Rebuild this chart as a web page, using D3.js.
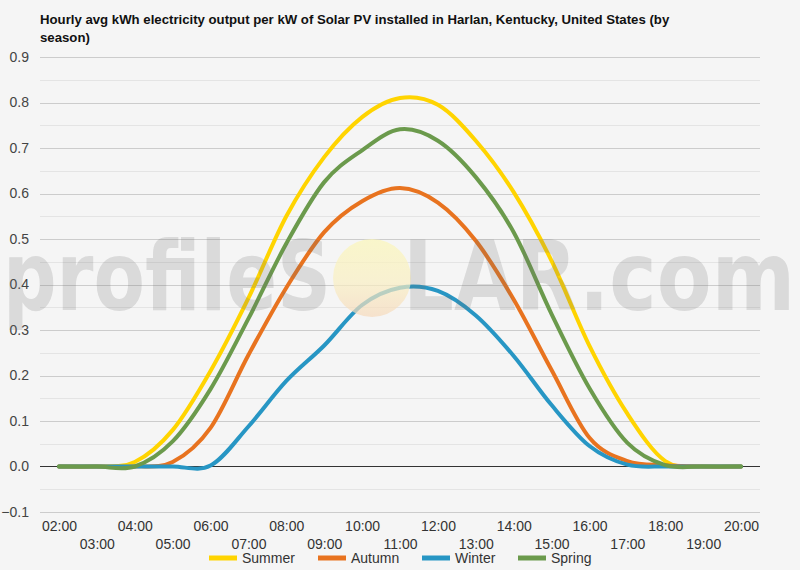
<!DOCTYPE html>
<html>
<head>
<meta charset="utf-8">
<script src="https://cdn.jsdelivr.net/npm/d3@7"></script>
<style>
  body { margin: 0; background: #f5f5f5; }
  svg { display: block; font-family: "Liberation Sans", Arial, sans-serif; }
</style>
</head>
<body>
<div id="chart"></div>
<script>
// Hours on the x axis
const hours = ["02:00","03:00","04:00","05:00","06:00","07:00","08:00","09:00","10:00",
  "11:00","12:00","13:00","14:00","15:00","16:00","17:00","18:00","19:00","20:00"];

// kWh per kW
const summer = [0, 0, 0.01, 0.08, 0.21, 0.37, 0.55, 0.68, 0.768, 0.81, 0.795, 0.716, 0.603, 0.452, 0.265, 0.116, 0.012, 0, 0];
const autumn = [0, 0, 0, 0.01, 0.085, 0.245, 0.393, 0.515, 0.583, 0.612, 0.58, 0.496, 0.367, 0.212, 0.063, 0.012, 0.003, 0, 0];
const winter = [0, 0, 0, 0, 0.002, 0.088, 0.188, 0.266, 0.355, 0.393, 0.386, 0.332, 0.243, 0.135, 0.045, 0.004, 0, 0, 0];
const spring = [0, 0, 0, 0.055, 0.17, 0.325, 0.49, 0.625, 0.695, 0.741, 0.716, 0.636, 0.515, 0.335, 0.172, 0.052, 0.003, 0, 0];

const seriesNames = ["Summer", "Autumn", "Winter", "Spring"];
const seriesValues = [summer, autumn, winter, spring];
const colors = ["#ffd400", "#e8731f", "#2796c4", "#6b9a4c"];

const yTicks = [-0.1, 0, 0.1, 0.2, 0.3, 0.4, 0.5, 0.6, 0.7, 0.8, 0.9];

const W = 800, H = 570;
const margin = { top: 57, right: 40, bottom: 58, left: 40 };

const svg = d3.select("#chart").append("svg")
    .attr("width", W)
    .attr("height", H);

svg.append("rect").attr("width", W).attr("height", H).attr("fill", "#f5f5f5");

// Title
const title = svg.append("text")
    .attr("x", 40)
    .attr("font-size", 13.2)
    .attr("font-weight", "bold")
    .attr("fill", "#111");
title.append("tspan").attr("x", 40).attr("y", 24)
    .text("Hourly avg kWh electricity output per kW of Solar PV installed in Harlan, Kentucky, United States (by");
title.append("tspan").attr("x", 40).attr("y", 42).text("season)");

// Scales
const x = d3.scalePoint()
    .domain(hours)
    .range([margin.left, W - margin.right])
    .padding(0.5);

const y = d3.scaleLinear()
    .domain([-0.1, 0.9])
    .range([H - margin.bottom, margin.top]);

// Grid lines: minor every 0.05, major every 0.1
const minor = d3.range(-0.05, 0.9, 0.1);
svg.append("g").selectAll("line")
    .data(minor)
    .enter().append("line")
    .attr("x1", margin.left).attr("x2", W - margin.right)
    .attr("y1", d => Math.round(y(d)) + 0.5).attr("y2", d => Math.round(y(d)) + 0.5)
    .attr("stroke", "#e4e4e4");

svg.append("g").selectAll("line")
    .data(yTicks.filter(d => d !== 0))
    .enter().append("line")
    .attr("x1", margin.left).attr("x2", W - margin.right)
    .attr("y1", d => Math.round(y(d)) + 0.5).attr("y2", d => Math.round(y(d)) + 0.5)
    .attr("stroke", "#cccccc");

// Y axis labels
const yAxis = svg.append("g")
    .attr("transform", `translate(${margin.left - 8},0)`)
    .call(d3.axisLeft(y).tickValues(yTicks).tickSize(0).tickFormat(d3.format(".1f")));
yAxis.select(".domain").remove();
yAxis.selectAll("text")
    .attr("font-size", 14)
    .attr("fill", "#444")
    .attr("font-family", "Liberation Sans, Arial, sans-serif");

// X axis labels, staggered on two rows
const xAxis = svg.append("g")
    .attr("transform", `translate(0,${H - margin.bottom + 4})`)
    .call(d3.axisBottom(x).tickSize(0));
xAxis.select(".domain").remove();
xAxis.selectAll("text")
    .attr("font-size", 14)
    .attr("fill", "#333")
    .attr("font-family", "Liberation Sans, Arial, sans-serif")
    .attr("y", (d, i) => i % 2 === 0 ? 5 : 23)
    .attr("dy", ".71em");

// Zero line
svg.append("line")
    .attr("x1", margin.left).attr("x2", W - margin.right)
    .attr("y1", y(0)).attr("y2", y(0))
    .attr("stroke", "#333").attr("stroke-width", 1);

// Lines
const line = d3.line()
    .x((d, i) => x(hours[i]))
    .y(d => y(d))
    .curve(d3.curveCardinal);

svg.append("g").selectAll("path")
    .data(seriesValues)
    .enter().append("path")
    .attr("d", d => line(d))
    .attr("fill", "none")
    .attr("stroke", (d, i) => colors[i])
    .attr("stroke-width", 4)
    .attr("stroke-linejoin", "round")
    .attr("stroke-linecap", "round");

// Watermark
const defs = svg.append("defs");
const grad = defs.append("linearGradient")
    .attr("id", "sun").attr("x1", 0).attr("y1", 0).attr("x2", 0).attr("y2", 1);
grad.append("stop").attr("offset", "0%").attr("stop-color", "#fbf6b8");
grad.append("stop").attr("offset", "55%").attr("stop-color", "#f9efc2");
grad.append("stop").attr("offset", "100%").attr("stop-color", "#f6d9bb");

svg.append("circle")
    .attr("cx", 372).attr("cy", 278).attr("r", 39)
    .attr("fill", "url(#sun)")
    .attr("opacity", 0.7);

const wm = svg.append("g")
    .attr("fill", "rgb(110,110,110)")
    .attr("fill-opacity", 0.2)
    .attr("font-family", "DejaVu Sans, sans-serif")
    .attr("font-weight", "bold")
    .attr("font-size", 96);
wm.append("text").attr("x", 3).attr("y", 310)
    .attr("textLength", 328).attr("lengthAdjust", "spacingAndGlyphs")
    .text("profileS");
wm.append("text").attr("x", 403).attr("y", 310)
    .attr("textLength", 392).attr("lengthAdjust", "spacingAndGlyphs")
    .text("LAR.com");

// Legend
const legendX = [209, 318, 422, 518];
const legend = svg.append("g");
seriesNames.forEach((name, i) => {
    legend.append("line")
        .attr("x1", legendX[i]).attr("x2", legendX[i] + 28)
        .attr("y1", 558).attr("y2", 558)
        .attr("stroke", colors[i]).attr("stroke-width", 5);
    legend.append("text")
        .attr("x", legendX[i] + 33)
        .attr("y", 558)
        .attr("dy", ".35em")
        .attr("font-size", 14)
        .attr("fill", "#333")
        .text(name);
});
</script>
</body>
</html>
